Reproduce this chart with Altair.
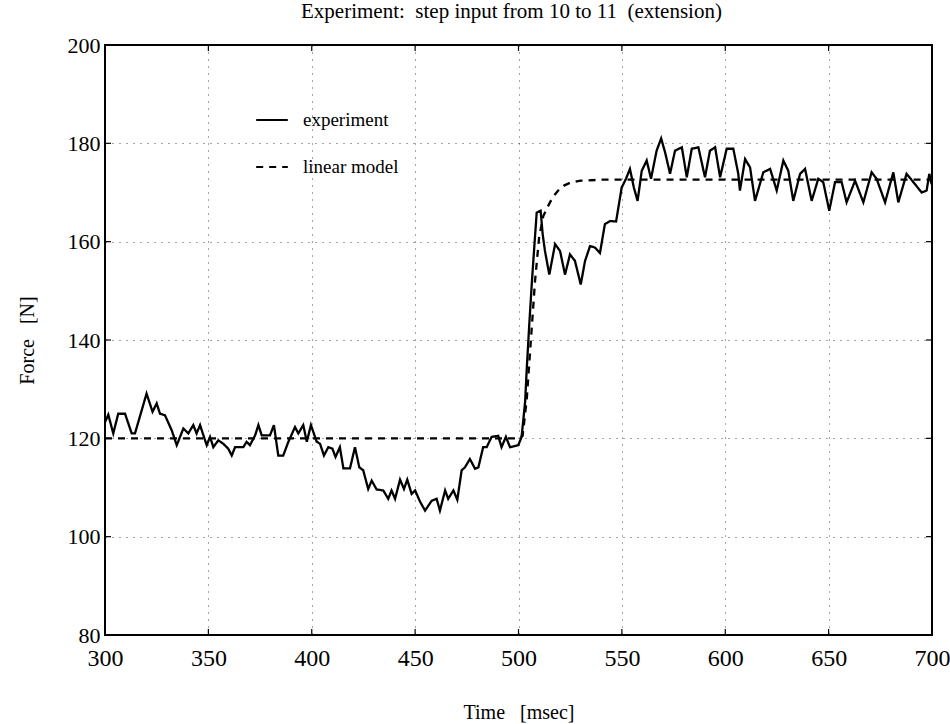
import altair as alt
import pandas as pd

# Measured force response to a step input (time in msec, force in N)
exp_t = [300, 301.6, 304, 306.4, 309.7, 312.9, 314.5, 320.1, 323, 325, 326.6, 329,
         332.3, 334.7, 337.9, 340.3, 342.7, 344.3, 346, 347.6, 349.2, 350.8, 352.4,
         354.8, 357.2, 359.6, 361.3, 362.9, 366.9, 368.5, 370.1, 372.6, 374.2, 375.8,
         379.8, 381.7, 383.8, 386.2, 388.7, 391.9, 393.5, 395.9, 397.6, 399.6, 402.4,
         404, 405.9, 408, 410, 411.5, 413.6, 415.3, 418.5, 420.9, 423, 424.9, 427.3,
         429, 431.4, 434.6, 437, 438.6, 440.3, 442.7, 444.6, 446.2, 448.3, 450, 452.4,
         454.8, 458, 460.4, 462, 464.5, 466, 468.5, 470.4, 472.5, 474.1, 476.5, 479,
         480.6, 482.9, 484.6, 487, 490.2, 491.8, 493.9, 495.9, 499.9, 501.5, 503.2,
         504, 505.2, 506.4, 507.5, 508.8, 510.7, 511.7, 512.8, 514.9, 517.7, 520.1,
         522.5, 524.9, 527.3, 530.1, 532.2, 534.6, 537, 539.4, 541.8, 544.3, 547.2,
         549.9, 552, 553.9, 555.8, 557.6, 559.6, 562, 564.1, 566.8, 569, 571, 573.3,
         575.7, 579, 581.4, 583.8, 587, 590.2, 592.6, 595.1, 597.5, 600.7, 603.9,
         606.3, 607.1, 609.6, 612, 614.4, 618.4, 621.7, 624.9, 628.1, 630.5, 632.9,
         636.2, 638.6, 641.8, 645, 647.4, 650.3, 653.1, 656.3, 658.7, 662.8, 666.8,
         670.8, 673.2, 677.3, 681.3, 683.7, 687.7, 691, 695, 697.4, 698.7, 699.8]
exp_f = [123.3, 124.8, 121.0, 125.0, 125.0, 121.0, 121.0, 129.1, 125.4, 127.1, 125, 124.7,
         121.6, 118.6, 122, 121, 122.7, 121, 122.7, 120.6, 118.6, 120.3, 118.2,
         119.6, 118.9, 117.9, 116.5, 118.2, 118.2, 119.3, 118.6, 120.6, 122.7, 120.6,
         120.6, 122.7, 116.5, 116.5, 119.3, 122.3, 121.0, 122.7, 119.3, 122.7, 119.3,
         118.9, 116.5, 118.2, 117.9, 116.2, 118.2, 113.9, 113.9, 118.2, 114.1, 113.5, 109.7,
         111.4, 109.6, 109.4, 107.7, 109.4, 107.7, 111.6, 109.7, 111.6, 108.7, 109.4, 107.1,
         105.3, 107.3, 107.7, 105.3, 109.4, 107.7, 109.4, 107.5, 113.5, 114.1, 115.8, 113.8,
         114.1, 118.2, 118.2, 120.3, 120.5, 118.2, 120.3, 118.2, 118.6, 120.3, 127.4,
         134.2, 143.1, 151.3, 158.1, 165.9, 166.3, 161.5, 158.1, 153.3, 159.5, 158.1,
         153.3, 157.4, 156.1, 151.3, 156.1, 159.1, 158.8, 157.7, 163.6, 164.2, 164.1,
         171, 172.8, 174.8, 171.0, 168.3, 174.4, 176.5, 172.8, 178.5, 181, 178, 173.8,
         178.5, 179.2, 173.1, 178.9, 179.2, 173.1, 178.5, 179.2, 173.1, 178.9, 178.9,
         173.8, 170.4, 176.8, 175.1, 168.3, 174.1, 174.8, 170.4, 176.5, 174.4, 168.3,
         173.8, 174.8, 168.3, 172.8, 172.1, 166.3, 172.1, 172.1, 168, 172.4, 168,
         174.1, 172.8, 168, 174.1, 168, 173.8, 172.1, 170, 170.4, 173.8, 171.7]

# Linear model step response
model_t = [300, 500, 502, 504, 506, 508, 510, 512, 514, 516, 518, 520, 522, 525, 530, 540, 700]
model_f = [120, 120, 120.5, 128, 140, 152, 161, 165.2, 167, 168.6, 169.8, 170.8, 171.4,
           172.0, 172.4, 172.6, 172.6]

series_names = ["experiment", "linear model"]

x_ticks = [300, 350, 400, 450, 500, 550, 600, 650, 700]
y_ticks = [80, 100, 120, 140, 160, 180, 200]

df = pd.concat([
    pd.DataFrame({"t": exp_t, "f": exp_f, "series": series_names[0]}),
    pd.DataFrame({"t": model_t, "f": model_f, "series": series_names[1]}),
])

SERIF = "Liberation Serif"

x_scale = alt.Scale(domain=[300, 700], nice=False, zero=False)
y_scale = alt.Scale(domain=[80, 200], nice=False, zero=False)

lines = alt.Chart(df).mark_line(color="black", strokeWidth=2.3).encode(
    x=alt.X("t:Q", scale=x_scale,
            axis=alt.Axis(values=x_ticks, title="Time\u00a0\u00a0 [msec]", titlePadding=32,
                          labelPadding=11, labelFontSize=24, labelFlush=False)),
    y=alt.Y("f:Q", scale=y_scale,
            axis=alt.Axis(values=y_ticks, title="Force\u00a0\u00a0 [N]", titlePadding=30,
                          labelPadding=5, labelFontSize=22, labelFlush=False)),
    strokeDash=alt.StrokeDash(
        "series:N",
        scale=alt.Scale(domain=series_names, range=[[1, 0], [7, 6]]),
        legend=alt.Legend(
            orient="none", legendX=150, legendY=58, title=None,
            symbolType="stroke", symbolSize=1000, symbolStrokeWidth=2,
            symbolStrokeColor="black", labelFont=SERIF, labelFontSize=19,
            labelColor="black", labelOffset=14, rowPadding=20, padding=0,
        ),
    ),
    detail="series:N",
)

# Small inward tick marks on all four sides of the frame
bottom_ticks = pd.DataFrame({"t": x_ticks[1:-1], "a": 80, "b": 81.2})
top_ticks = pd.DataFrame({"t": x_ticks[1:-1], "a": 200, "b": 198.8})
left_ticks = pd.DataFrame({"f": y_ticks[1:-1], "a": 300, "b": 302.9})
right_ticks = pd.DataFrame({"f": y_ticks[1:-1], "a": 700, "b": 697.1})

def vticks(d):
    return alt.Chart(d).mark_rule(color="black", strokeWidth=1.2).encode(
        x=alt.X("t:Q", scale=x_scale), y=alt.Y("a:Q", scale=y_scale), y2="b:Q")

def hticks(d):
    return alt.Chart(d).mark_rule(color="black", strokeWidth=1.2).encode(
        y=alt.Y("f:Q", scale=y_scale), x=alt.X("a:Q", scale=x_scale), x2="b:Q")

chart = alt.layer(
    lines, vticks(bottom_ticks), vticks(top_ticks), hticks(left_ticks), hticks(right_ticks)
).properties(
    width=827,
    height=590,
    autosize=alt.AutoSizeParams(type="none"),
    padding={"left": 105, "top": 45, "right": 18, "bottom": 89},
    background="white",
    title=alt.TitleParams(
        "Experiment:\u00a0 step input from 10 to 11\u00a0 (extension)",
        font=SERIF, fontSize=21, fontWeight="normal", color="black",
        anchor="middle", offset=12, dx=-7,
    ),
).configure_view(
    stroke="black", strokeWidth=2
).configure_axis(
    domain=False, ticks=False,
    grid=True, gridColor="black", gridWidth=1, gridDash=[1, 6], gridOpacity=0.7,
    labelFont=SERIF, labelColor="black",
    titleFont=SERIF, titleFontSize=20, titleFontWeight="normal", titleColor="black",
)

chart.save("out.html", embed_options={"renderer": "svg", "actions": False})
